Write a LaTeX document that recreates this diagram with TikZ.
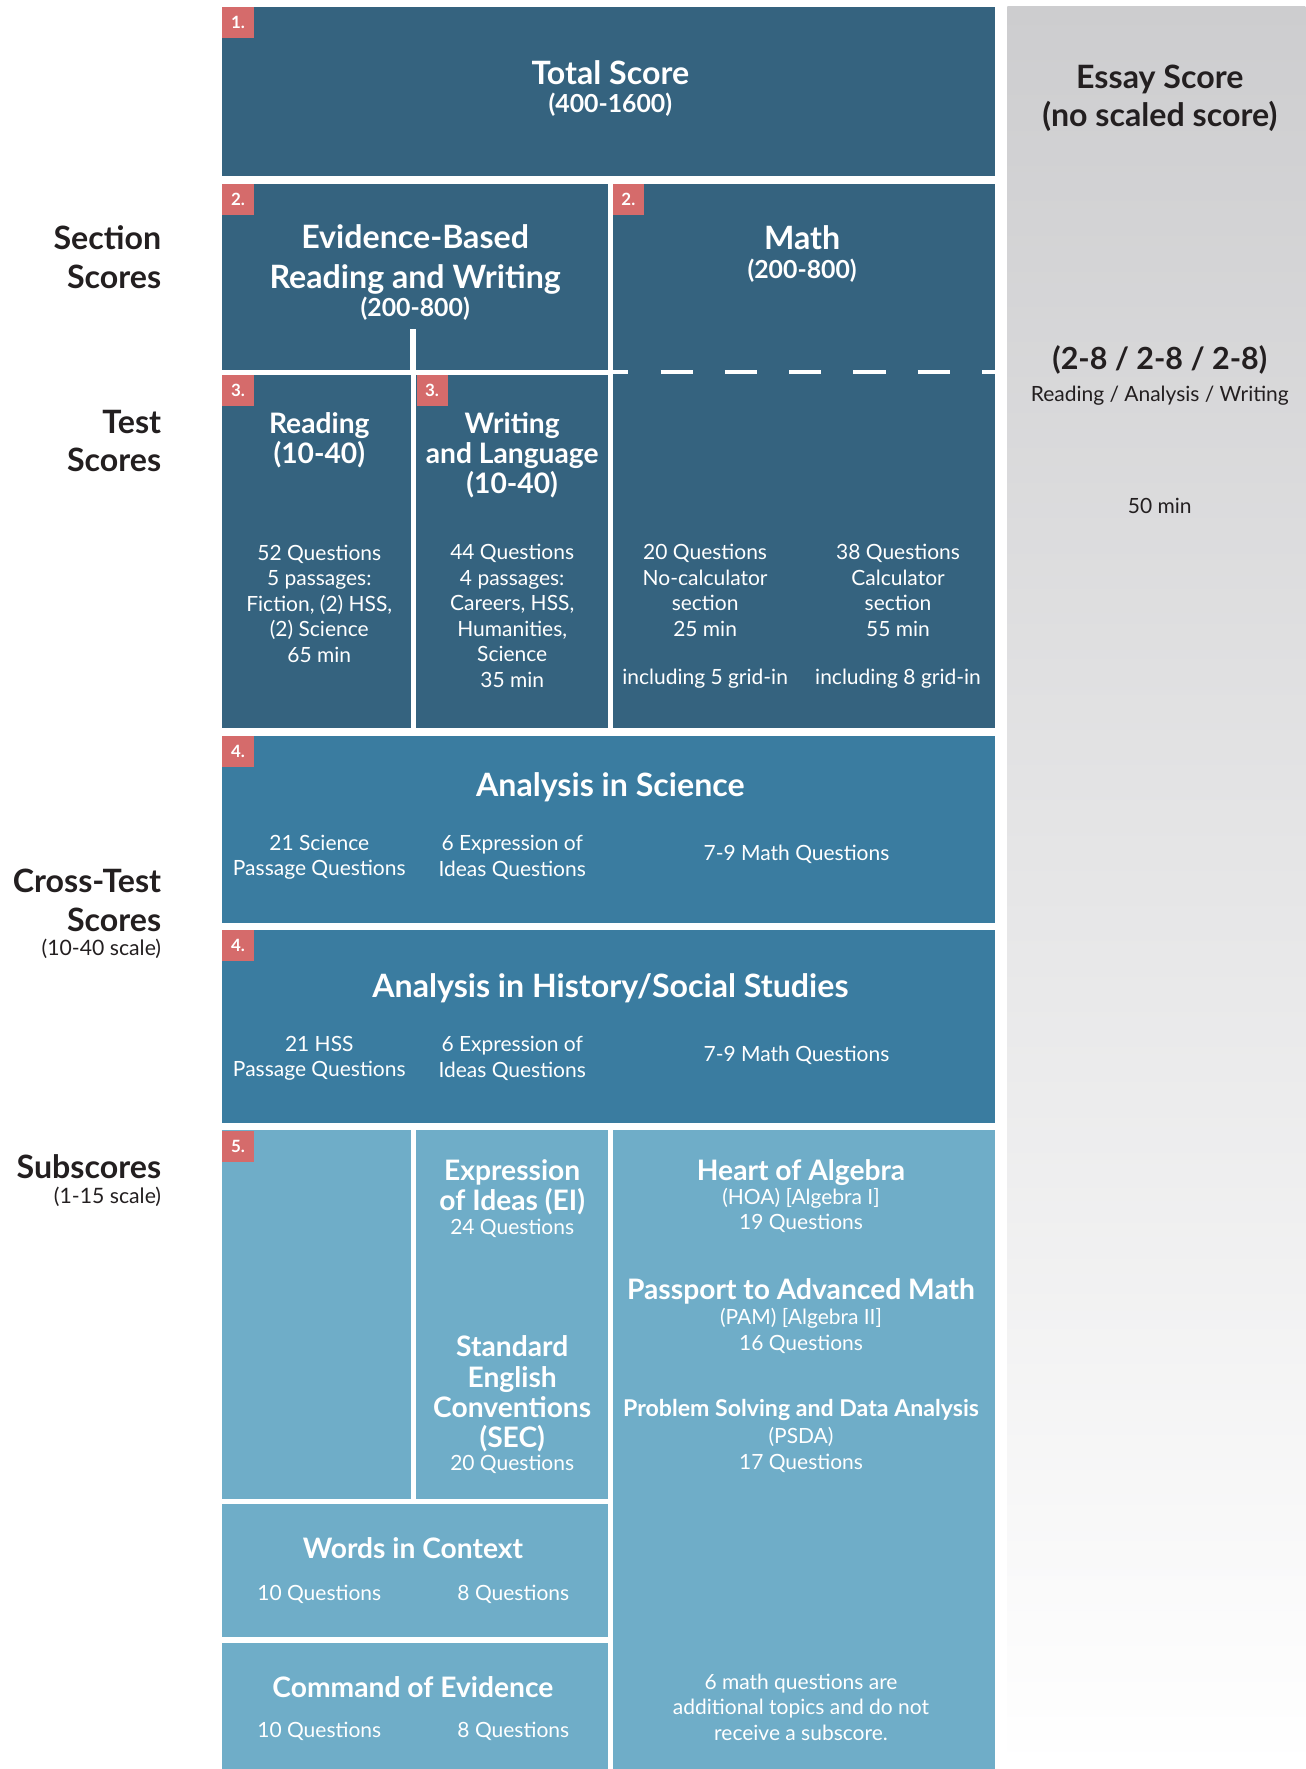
\documentclass[tikz,border=0pt]{standalone}
\usepackage{fontspec}
\setmainfont{Lato}
\definecolor{scoredark}{HTML}{35637F}
\definecolor{scoremid}{HTML}{3A7CA0}
\definecolor{scorelight}{HTML}{6FADC8}
\definecolor{badgered}{HTML}{D56B6B}
\definecolor{essaygray}{HTML}{CDCDCF}
\definecolor{inkblack}{HTML}{231F20}
\tikzset{
  bigtitle/.style={text=white,font=\fontsize{28.5}{35}\selectfont\bfseries,align=center,inner sep=0pt},
  midtitle/.style={text=white,font=\fontsize{25}{26.8}\selectfont\bfseries,align=center,inner sep=0pt},
  rangetext/.style={text=white,font=\fontsize{22}{24}\selectfont\bfseries,align=center,inner sep=0pt},
  bodytext/.style={text=white,font=\fontsize{18.6}{22.6}\selectfont,align=center,inner sep=0pt},
  sidehead/.style={text=inkblack,font=\fontsize{28.5}{34}\selectfont\bfseries,align=right,anchor=east,inner sep=0pt},
  sidenote/.style={text=inkblack,font=\fontsize{18.8}{22.6}\selectfont,align=right,anchor=east,inner sep=0pt},
  badge/.style={fill=badgered,text=white,minimum size=27.5pt,inner sep=0pt,anchor=north west,font=\fontsize{15}{15}\selectfont\bfseries},
}
\begin{document}
\begin{tikzpicture}[x=1pt,y=-1pt]
    \useasboundingbox (0,0) rectangle (1157,1568);
    % essay column
    \shade[top color=essaygray,bottom color=white] (893,6) rectangle (1157,1568);
    % blocks
    \foreach \xa/\ya/\xb/\yb in {197/6/882/156, 197/163/539/328, 197/332/364/645, 369/332/539/645, 543/163/882/645}
        \fill[scoredark] (\xa,\ya) rectangle (\xb,\yb);
    \foreach \xa/\ya/\xb/\yb in {197/652/882/818, 197/824/882/995}
        \fill[scoremid] (\xa,\ya) rectangle (\xb,\yb);
    \foreach \xa/\ya/\xb/\yb in {197/1002/364/1329, 369/1002/539/1329, 197/1333/539/1451, 197/1456/539/1568, 543/1002/882/1568}
        \fill[scorelight] (\xa,\ya) rectangle (\xb,\yb);
    \draw[white,line width=5pt] (366,292) -- (366,330);
    \draw[white,line width=3.5pt,dash pattern=on 28.5pt off 28.5pt,dash phase=14.5pt] (543,329.5) -- (882,329.5);
    % badges
    \foreach \nx/\ny/\num [count=\k] in {197/6/1, 197/163/2, 543/163/2, 197/332/3, 369/332/3, 197/652/4, 197/824/4, 197/1002/5}
        \node[badge] (badge\k) at (\nx,\ny) {\num.};

    % side labels
    \node[sidehead] (section) at (143,228) {Section\\Scores};
    \node[sidehead] (test) at (143,391) {Test\\Scores};
    \node[sidehead] (cross) at (143,798) {Cross-Test\\Scores};
    \node[sidenote] (crossscale) at (143,841) {(10-40 scale)};
    \node[sidehead] (subs) at (143,1034) {Subscores};
    \node[sidenote] (subscale) at (143,1061) {(1-15 scale)};

    % total and sections
    \node[bigtitle] (total) at (541,64) {Total Score};
    \node[rangetext] (totalrange) at (541,93) {(400-1600)};
    \node[bigtitle] (ebrw) at (368,230) {Evidence-Based\\Reading and Writing};
    \node[rangetext] (ebrwrange) at (368,274) {(200-800)};
    \node[bigtitle] (math) at (711,211) {Math};
    \node[rangetext] (mathrange) at (711,240) {(200-800)};

    % tests
    \node[midtitle] (reading) at (283,390) {Reading\\(10-40)};
    \node[midtitle] (writing) at (454,403.5) {Writing\\and Language\\(10-40)};
    \node[bodytext] (readingbody) at (283,535) {52 Questions\\5 passages:\\Fiction, (2) HSS,\\(2) Science\\65 min};
    \node[bodytext] (writingbody) at (454,546) {44 Questions\\4 passages:\\Careers, HSS,\\Humanities,\\Science\\35 min};
    \node[bodytext] (nocalc) at (625,523.5) {20 Questions\\No-calculator\\section\\25 min};
    \node[bodytext] (nocalcgrid) at (625,602) {including 5 grid-in};
    \node[bodytext] (calc) at (796,523.5) {38 Questions\\Calculator\\section\\55 min};
    \node[bodytext] (calcgrid) at (796,602) {including 8 grid-in};

    % essay
    \node[sidehead,anchor=center,align=center] (essay) at (1028,87) {Essay Score\\(no scaled score)};
    \node[sidehead,anchor=center,font=\fontsize{27}{30}\selectfont\bfseries] (essayrange) at (1028,319) {(2-8 / 2-8 / 2-8)};
    \node[sidenote,anchor=center,font=\fontsize{18.6}{22.6}\selectfont] (essayparts) at (1028,351) {Reading / Analysis / Writing};
    \node[sidenote,anchor=center,font=\fontsize{18.6}{22.6}\selectfont] (essaytime) at (1028,448) {50 min};

    % cross-test
    \node[bigtitle] (science) at (541,698) {Analysis in Science};
    \node[bodytext] (sciread) at (283,760) {21 Science\\Passage Questions};
    \node[bodytext] (sciwrite) at (454,760) {6 Expression of\\Ideas Questions};
    \node[bodytext] (scimath) at (706,757) {7-9 Math Questions};
    \node[bigtitle] (history) at (541,876) {Analysis in History/Social Studies};
    \node[bodytext] (hssread) at (283,938) {21 HSS\\Passage Questions};
    \node[bodytext] (hsswrite) at (454,938) {6 Expression of\\Ideas Questions};
    \node[bodytext] (hssmath) at (706,935) {7-9 Math Questions};

    % subscores
    \node[midtitle] (ei) at (454,1052.5) {Expression\\of Ideas (EI)};
    \node[bodytext] (eicount) at (454,1089) {24 Questions};
    \node[midtitle] (sec) at (454,1235.5) {Standard\\English\\Conventions\\(SEC)};
    \node[bodytext] (seccount) at (454,1298) {20 Questions};
    \node[midtitle] (hoa) at (710,1039) {Heart of Algebra};
    \node[bodytext] (hoacount) at (710,1073) {(HOA) [Algebra I]\\19 Questions};
    \node[midtitle] (pam) at (710,1145) {Passport to Advanced Math};
    \node[bodytext] (pamcount) at (710,1179.5) {(PAM) [Algebra II]\\16 Questions};
    \node[rangetext,font=\fontsize{20.5}{24}\selectfont\bfseries] (psda) at (710,1250) {Problem Solving and Data Analysis};
    \node[bodytext] (psdacount) at (710,1285) {(PSDA)\\17 Questions};
    \node[bodytext] (extra) at (710,1513) {6 math questions are\\additional topics and do not\\receive a subscore.};
    \node[midtitle] (wic) at (366,1372) {Words in Context};
    \node[bodytext] (wicread) at (283,1413) {10 Questions};
    \node[bodytext] (wicwrite) at (455,1413) {8 Questions};
    \node[midtitle] (coe) at (366,1495) {Command of Evidence};
    \node[bodytext] (coeread) at (283,1535) {10 Questions};
    \node[bodytext] (coewrite) at (455,1535) {8 Questions};
\end{tikzpicture}
\end{document}
